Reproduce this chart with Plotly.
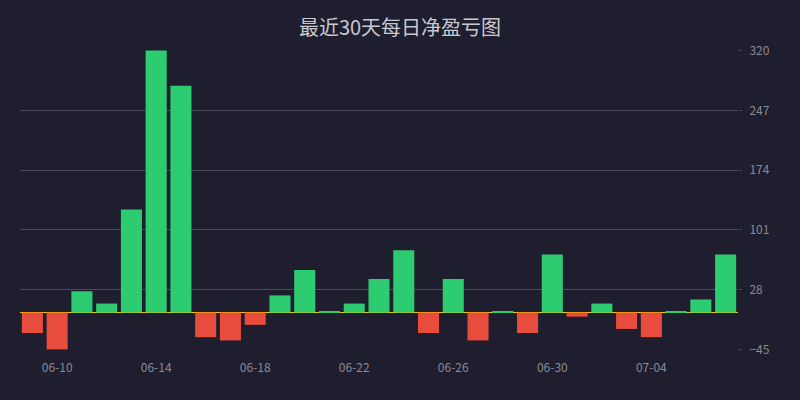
import plotly.graph_objects as go

# daily net P&L
dates = ['06-09', '06-10', '06-11', '06-12', '06-13', '06-14', '06-15', '06-16',
         '06-17', '06-18', '06-19', '06-20', '06-21', '06-22', '06-23', '06-24',
         '06-25', '06-26', '06-27', '06-28', '06-29', '06-30', '07-01', '07-02',
         '07-03', '07-04', '07-05', '07-06', '07-07']
pnl = [-25, -45, 26, 11, 126, 320, 277, -30, -34, -15, 21, 52, 1, 11, 41, 76,
       -25, 41, -34, 1, -25, 71, -5, 11, -20, -30, 1, 16, 71]
y_ticks = [-45, 28, 101, 174, 247, 320]
x_ticks = ['06-10', '06-14', '06-18', '06-22', '06-26', '06-30', '07-04']

GREEN = '#2ecc71'
RED = '#e74c3c'
BG = '#1e1e2e'

colors = [GREEN if v >= 0 else RED for v in pnl]

fig = go.Figure()
fig.add_trace(go.Bar(x=dates, y=pnl, marker=dict(color=colors, line=dict(width=0)),
                     showlegend=False))

fig.update_layout(
    title=dict(text='最近30天每日净盈亏图', x=0.5, xanchor='center', y=0.93, yanchor='middle',
               font=dict(family='Noto Sans CJK SC', size=20, color='#c8c8d0')),
    width=800, height=400,
    paper_bgcolor=BG, plot_bgcolor=BG,
    margin=dict(l=20, r=62, t=50, b=50),
    bargap=0.15,
    font=dict(family='Noto Sans CJK SC', size=12, color='#8a8a96'),
)
fig.update_xaxes(type='category', tickvals=x_ticks, ticktext=x_ticks, showgrid=False,
                 showline=False, zeroline=False, ticks='', ticklabelstandoff=9,
                 tickfont=dict(size=12, color='#8a8a96'))
# tiny padding so the edge gridlines (-45 / 320) still get drawn
fig.update_yaxes(side='right', range=[-45.7, 320.7], tickvals=y_ticks, showgrid=True,
                 gridcolor='#4a4a56', gridwidth=1, zeroline=True, zerolinecolor='#f1c40f',
                 zerolinewidth=1, ticks='outside', ticklen=3, tickcolor='#4a4a56',
                 ticklabelstandoff=5, tickfont=dict(size=12, color='#8a8a96'))

fig.write_html("out.html", config={'displayModeBar': False},
               post_script="document.body.style.margin='0';")
